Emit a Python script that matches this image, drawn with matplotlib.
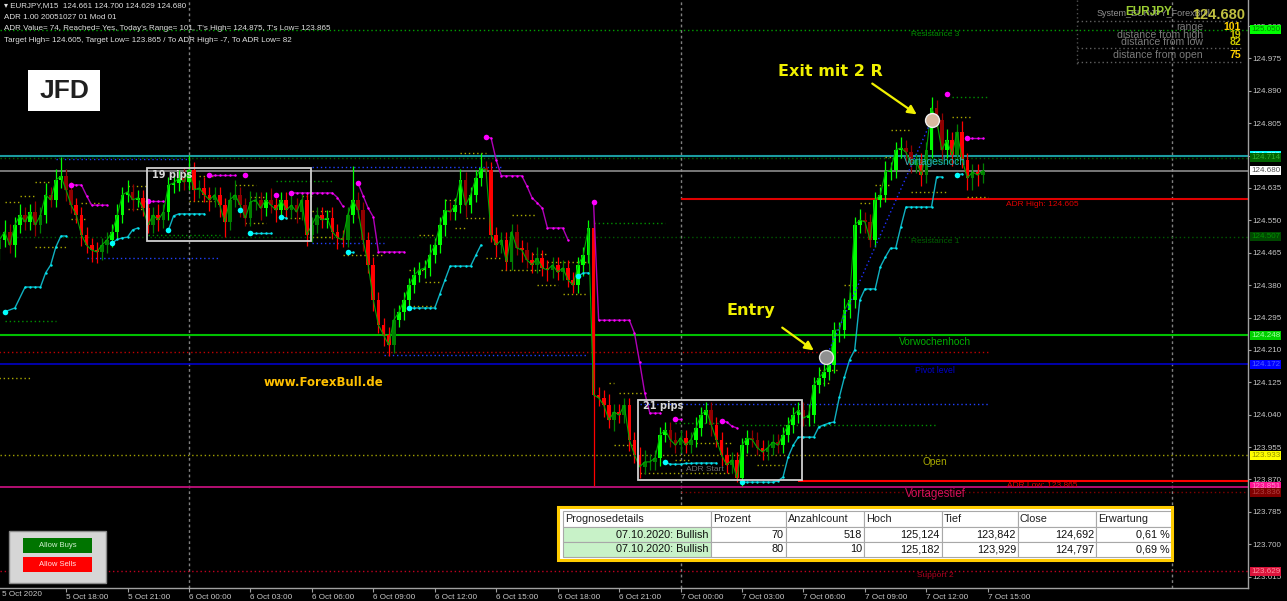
import numpy as np
import matplotlib.pyplot as plt
from matplotlib.patches import Rectangle

plt.rcParams['font.family'] = ['Liberation Sans', 'DejaVu Sans']

# EURJPY M15 closes, bar 0 = 6 Oct 00:00, last bar = 7 Oct 14:45
closes = [
    124.499, 124.520, 124.485, 124.538, 124.564, 124.546, 124.572, 124.538, 124.564, 124.617,
    124.604, 124.656, 124.666, 124.630, 124.590, 124.564, 124.512, 124.485, 124.472, 124.467,
    124.485, 124.499, 124.520, 124.564, 124.617, 124.625, 124.604, 124.609, 124.582, 124.538,
    124.564, 124.551, 124.572, 124.643, 124.648, 124.661, 124.651, 124.682, 124.630, 124.635,
    124.617, 124.604, 124.617, 124.590, 124.546, 124.604, 124.617, 124.590, 124.556, 124.598,
    124.604, 124.582, 124.604, 124.590, 124.577, 124.604, 124.577, 124.590, 124.572, 124.604,
    124.512, 124.538, 124.564, 124.551, 124.556, 124.520, 124.504, 124.499, 124.564, 124.604,
    124.577, 124.499, 124.433, 124.341, 124.275, 124.249, 124.223, 124.289, 124.309, 124.341,
    124.380, 124.407, 124.420, 124.425, 124.459, 124.485, 124.538, 124.577, 124.572, 124.590,
    124.656, 124.590, 124.617, 124.661, 124.687, 124.682, 124.512, 124.485, 124.499, 124.441,
    124.520, 124.478, 124.472, 124.446, 124.433, 124.451, 124.425, 124.420, 124.433, 124.414,
    124.425, 124.394, 124.380, 124.433, 124.459, 124.530, 124.092, 124.084, 124.065, 124.026,
    124.047, 124.039, 124.065, 123.974, 123.934, 123.903, 123.916, 123.916, 123.926, 123.987,
    124.000, 123.974, 123.960, 123.979, 123.960, 123.974, 124.005, 124.039, 124.052, 124.013,
    123.974, 123.934, 123.908, 123.921, 123.874, 123.960, 123.979, 123.974, 123.953, 123.942,
    123.953, 123.968, 123.960, 123.987, 124.013, 124.039, 124.052, 124.031, 124.039, 124.118,
    124.136, 124.152, 124.170, 124.262, 124.262, 124.315, 124.341, 124.538, 124.551, 124.546,
    124.499, 124.604, 124.617, 124.677, 124.682, 124.735, 124.740, 124.729, 124.695, 124.708,
    124.669, 124.735, 124.845, 124.813, 124.735, 124.761, 124.722, 124.782, 124.708, 124.661,
    124.677, 124.669, 124.680,
]
# wicks in pips above / below the candle body
wick_up = [
    2, 3, 2, 2, 3, 2, 2, 3, 2, 3,
    2, 3, 5, 2, 2, 2, 2, 2, 2, 2,
    2, 2, 2, 3, 2, 3, 2, 2, 2, 2,
    2, 3, 2, 2, 3, 2, 3, 4, 2, 2,
    3, 2, 2, 2, 2, 2, 4, 2, 2, 3,
    2, 2, 2, 3, 2, 2, 2, 3, 2, 2,
    2, 2, 2, 2, 2, 3, 2, 2, 2, 9,
    2, 2, 2, 2, 2, 2, 2, 3, 2, 2,
    2, 2, 2, 2, 3, 2, 2, 3, 2, 2,
    3, 2, 2, 2, 4, 2, 2, 2, 2, 2,
    2, 2, 2, 2, 2, 3, 2, 2, 2, 2,
    2, 2, 2, 2, 2, 2, 2, 2, 2, 3,
    2, 2, 2, 2, 2, 2, 3, 2, 2, 2,
    2, 2, 2, 2, 2, 2, 3, 2, 2, 2,
    2, 2, 2, 2, 2, 2, 2, 2, 2, 2,
    2, 2, 2, 2, 2, 2, 2, 2, 3, 2,
    3, 2, 2, 2, 2, 3, 2, 2, 3, 2,
    2, 2, 2, 3, 2, 2, 3, 2, 2, 2,
    2, 2, 3, 2, 2, 3, 2, 2, 3, 2,
    2, 2, 2,
]
wick_dn = [
    3, 2, 2, 3, 2, 2, 2, 3, 2, 2,
    2, 2, 2, 3, 2, 2, 3, 2, 3, 3,
    2, 2, 2, 2, 2, 2, 3, 2, 2, 2,
    2, 3, 2, 2, 2, 2, 2, 2, 3, 2,
    2, 3, 2, 3, 4, 2, 2, 3, 2, 2,
    2, 3, 2, 2, 3, 2, 2, 2, 3, 2,
    3, 2, 2, 2, 2, 2, 3, 2, 2, 2,
    2, 3, 2, 3, 2, 3, 3, 2, 2, 2,
    2, 2, 2, 2, 2, 2, 2, 3, 2, 2,
    2, 3, 2, 2, 2, 2, 2, 3, 2, 2,
    2, 2, 3, 2, 2, 2, 2, 3, 2, 2,
    2, 2, 2, 2, 3, 2, 24, 2, 3, 2,
    3, 2, 2, 3, 2, 3, 2, 2, 2, 2,
    2, 2, 2, 2, 2, 2, 2, 2, 2, 3,
    2, 3, 2, 2, 1, 2, 2, 2, 2, 2,
    2, 2, 2, 2, 2, 2, 2, 2, 2, 2,
    2, 2, 2, 2, 3, 2, 2, 2, 2, 3,
    2, 2, 2, 2, 2, 2, 2, 3, 2, 2,
    3, 2, 2, 2, 3, 2, 3, 2, 2, 3,
    3, 3, 2,
]
first_open = 124.475

time_ticks = [-24, -12, 0, 12, 24, 36, 48, 60, 72, 84, 96, 108, 120, 132, 144, 156]
time_labels = ["5 Oct 18:00", "5 Oct 21:00", "6 Oct 00:00", "6 Oct 03:00", "6 Oct 06:00",
               "6 Oct 09:00", "6 Oct 12:00", "6 Oct 15:00", "6 Oct 18:00", "6 Oct 21:00",
               "7 Oct 00:00", "7 Oct 03:00", "7 Oct 06:00", "7 Oct 09:00", "7 Oct 12:00",
               "7 Oct 15:00"]
day_starts = [0, 96, 192]
price_ticks = [125.060, 124.975, 124.890, 124.805, 124.720, 124.635, 124.550, 124.465, 124.380,
               124.295, 124.210, 124.125, 124.040, 123.955, 123.870, 123.785, 123.700, 123.615]

# levels
resistance3 = 125.050
vortageshoch = 124.720
resistance2 = 124.714
bid = 124.680
adr_high = 124.605
resistance1 = 124.507
vorwochenhoch = 124.248
red_level = 124.205
pivot = 124.172
day_open = 123.933
adr_low = 123.865
vortagestief = 123.851
dark_red_level = 123.836
support2 = 123.629

# trailing stop dots (bar, price)
cyan_stops = [
    [(-36, 124.310), (-34, 124.320), (-32, 124.375), (-31, 124.375), (-30, 124.375), (-29, 124.375),
     (-28, 124.412), (-27, 124.433), (-26, 124.480), (-25, 124.509), (-24, 124.509)],
    [(-15, 124.491), (-14, 124.500), (-13, 124.504), (-12, 124.506), (-11, 124.525), (-10, 124.530)],
    [(-4, 124.525), (-3, 124.562), (-2, 124.567), (-1, 124.567), (0, 124.567), (1, 124.567),
     (2, 124.567), (3, 124.567)],
    [(10, 124.577)],
    [(12, 124.517), (13, 124.517), (14, 124.517), (15, 124.517), (16, 124.517)],
    [(18, 124.559), (19, 124.556)],
    [(31, 124.467), (32, 124.467)],
    [(43, 124.320), (44, 124.320), (45, 124.320), (46, 124.320), (47, 124.320), (48, 124.320),
     (49, 124.357), (50, 124.394), (51, 124.430), (52, 124.430), (53, 124.430), (54, 124.430),
     (55, 124.430), (56, 124.458), (57, 124.485)],
    [(76, 124.404), (77, 124.412), (78, 124.412)],
    [(93, 123.915), (94, 123.910), (95, 123.910), (96, 123.910), (97, 123.912), (98, 123.912),
     (99, 123.913), (100, 123.913), (101, 123.913), (102, 123.913), (103, 123.913)],
    [(108, 123.863), (109, 123.863), (110, 123.863), (111, 123.863), (112, 123.863), (113, 123.863),
     (114, 123.863), (115, 123.866), (116, 123.876), (117, 123.929), (118, 123.960), (119, 123.981),
     (120, 123.981), (121, 123.981), (122, 123.981), (123, 124.008), (124, 124.013), (125, 124.018),
     (126, 124.021), (127, 124.086), (128, 124.139), (129, 124.184), (130, 124.210), (131, 124.341),
     (132, 124.370), (133, 124.370), (134, 124.370), (135, 124.428), (136, 124.454), (137, 124.477),
     (138, 124.477), (139, 124.533), (140, 124.585), (141, 124.585), (142, 124.585), (143, 124.585),
     (144, 124.585), (145, 124.585), (146, 124.664), (147, 124.664)],
    [(150, 124.669), (151, 124.672)],
]
magenta_stops = [
    [(-23, 124.643), (-22, 124.643), (-21, 124.643), (-20, 124.615), (-19, 124.590), (-18, 124.590),
     (-17, 124.590), (-16, 124.590)],
    [(-8, 124.601), (-7, 124.601), (-6, 124.601), (-5, 124.601)],
    [(4, 124.669), (5, 124.669), (6, 124.669), (7, 124.669), (8, 124.669), (9, 124.669)],
    [(11, 124.669)],
    [(17, 124.617)],
    [(20, 124.622), (21, 124.622), (22, 124.622), (23, 124.622), (24, 124.622), (25, 124.622),
     (26, 124.622), (27, 124.622), (28, 124.622), (29, 124.610), (30, 124.588)],
    [(33, 124.648), (34, 124.615), (35, 124.582), (36, 124.559), (37, 124.467), (38, 124.467),
     (39, 124.467), (40, 124.467), (41, 124.467), (42, 124.467)],
    [(58, 124.769), (59, 124.766), (60, 124.708), (61, 124.667), (62, 124.667), (63, 124.667),
     (64, 124.667), (65, 124.667), (66, 124.640), (67, 124.609), (68, 124.596), (69, 124.582),
     (70, 124.530), (71, 124.530), (72, 124.530), (73, 124.530), (74, 124.499)],
    [(79, 124.598), (80, 124.288), (81, 124.288), (82, 124.288), (83, 124.288), (84, 124.288),
     (85, 124.288), (86, 124.288), (87, 124.254), (88, 124.178), (89, 124.097), (90, 124.044),
     (91, 124.044), (92, 124.044)],
    [(95, 124.029), (96, 124.029)],
    [(104, 124.023), (105, 124.021), (106, 124.010), (107, 124.005)],
    [(148, 124.882)],
    [(152, 124.766), (153, 124.766), (154, 124.766), (155, 124.766)],
]

# short dotted indicator levels (start bar, end bar, price)
olive_levels = [
    (-37, -31, 124.136), (-36, -33, 124.598), (-33, -30, 124.614), (-30, -27, 124.651),
    (-30, -24, 124.480), (-21, -17, 124.596), (-23, -20, 124.554), (-12, -8, 124.640),
    (-12, -9, 124.580), (2, 5, 124.666), (0, 5, 124.601), (9, 13, 124.643), (12, 15, 124.611),
    (11, 15, 124.543), (19, 22, 124.556), (22, 24, 124.614), (24, 28, 124.575), (24, 28, 124.506),
    (30, 38, 124.459), (50, 52, 124.604), (52, 54, 124.530), (54, 58, 124.556), (53, 58, 124.727),
    (45, 48, 124.512), (43, 46, 124.420), (46, 49, 124.388), (43, 48, 124.325), (63, 68, 124.564),
    (58, 61, 124.451), (61, 69, 124.420), (67, 70, 124.462), (70, 78, 124.441), (68, 72, 124.380),
    (73, 78, 124.357), (82, 83, 124.123), (84, 89, 124.097), (83, 87, 123.960), (88, 106, 123.887),
    (99, 106, 123.966), (95, 98, 123.921), (111, 116, 123.908), (123, 125, 124.123),
    (123, 127, 124.157), (128, 130, 124.380), (131, 133, 124.596), (134, 137, 124.643),
    (137, 141, 124.787), (136, 137, 124.716), (141, 148, 124.625), (149, 153, 124.821),
    (152, 156, 124.611),
]
green_levels = [
    (-36, -26, 124.286), (-8, 6, 124.512), (17, 28, 124.653), (79, 93, 124.543),
    (95, 104, 124.018), (108, 146, 124.013), (149, 156, 124.874),
]
blue_levels = [
    (-26, 0, 124.711), (-20, 6, 124.451), (24, 61, 124.690), (24, 38, 124.491),
    (38, 78, 124.197), (88, 156, 124.068),
]

box_19 = (-8.2, 23.8, 124.497, 124.687)
box_21 = (87.7, 119.7, 123.869, 124.079)
entry = (124.4, 124.191)
exit_ = (145.0, 124.813)

table_header = ["Prognosedetails", "Prozent", "Anzahlcount", "Hoch", "Tief", "Close", "Erwartung"]
table_rows = [
    ["07.10.2020: Bullish", "70", "518", "125,124", "123,842", "124,692", "0,61 %"],
    ["07.10.2020: Bullish", "80", "10", "125,182", "123,929", "124,797", "0,69 %"],
]

# ------------------------------------------------------------------
W, H = 1287, 601
fig = plt.figure(figsize=(W / 100, H / 100), dpi=100, facecolor='black')
ax = fig.add_axes([0, 13 / H, 1248 / W, 588 / H])
ax.set_facecolor('black')
ax.set_xlim(-36.9, 206.8)
ax.set_ylim(123.585, 125.1285)

for s in ['top', 'left']:
    ax.spines[s].set_visible(False)
for s in ['right', 'bottom']:
    ax.spines[s].set_color('#a0a0a0')
    ax.spines[s].set_linewidth(1)

ax.yaxis.tick_right()
ax.set_yticks(price_ticks)
ax.set_yticklabels([f"{p:.3f}" for p in price_ticks])
ax.tick_params(axis='y', colors='#a0a0a0', labelcolor='#c8c8c8', labelsize=5.8,
               length=2, pad=1.5)
ax.set_xticks(time_ticks)
ax.set_xticklabels(time_labels)
ax.tick_params(axis='x', colors='#a0a0a0', labelcolor='#c8c8c8', labelsize=5.9,
               length=3, pad=1.5)
for lab in ax.get_xticklabels():
    lab.set_ha('left')

# day separators
for d in day_starts:
    ax.axvline(d, color='#808080', lw=1, ls=(0, (2, 2)), zorder=1)

# horizontal levels
dot = (0, (1, 2))
ax.axhline(resistance3, color='#00a000', lw=1, ls=dot, zorder=1)
ax.axhline(vortageshoch, color='#1a9aa0', lw=1.5, zorder=1)
ax.axhline(resistance2, color='#006800', lw=1, ls=dot, zorder=1)
ax.axhline(bid, color='#8c8c8c', lw=1.2, zorder=1)
ax.hlines(adr_high, 96, 206.8, color='#e00000', lw=1.5, zorder=1)
ax.axhline(resistance1, color='#005a00', lw=1, ls=dot, zorder=1)
ax.axhline(vorwochenhoch, color='#00c000', lw=1.5, zorder=1)
ax.hlines(red_level, -37, 156, color='#c00000', lw=1, ls=dot, zorder=1)
ax.axhline(pivot, color='#0000c8', lw=1.2, zorder=1)
ax.axhline(day_open, color='#a0a000', lw=1, ls=dot, zorder=1)
ax.hlines(adr_low, 119, 206.8, color='#ff0000', lw=1.5, zorder=1)
ax.axhline(vortagestief, color='#c0107a', lw=1.3, zorder=1)
ax.hlines(dark_red_level, 96, 206.8, color='#800000', lw=1, ls=dot, zorder=1)
ax.axhline(support2, color='#c00020', lw=1, ls=dot, zorder=1)

for b0, b1, p in olive_levels:
    ax.hlines(p, b0, b1, color='#a8a800', lw=1, ls=dot, zorder=1)
for b0, b1, p in green_levels:
    ax.hlines(p, b0, b1, color='#009000', lw=1, ls=dot, zorder=1)
for b0, b1, p in blue_levels:
    ax.hlines(p, b0, b1, color='#2040ff', lw=1, ls=dot, zorder=1)

# candles
c = np.array(closes)
o = np.r_[first_open, c[:-1]]
hi = np.maximum(o, c) + np.array(wick_up) / 100
lo = np.minimum(o, c) - np.array(wick_dn) / 100
bars = np.arange(156 - len(c), 156)
mom = c - np.r_[np.full(4, c[0]), c[:-4]]
cols = []
for oo, cc, m in zip(o, c, mom):
    if cc >= oo:
        cols.append('#00ff00' if m > 0.015 else '#008000')
    else:
        cols.append('#ff0000' if m < -0.015 else '#900000')
ax.vlines(bars, lo, hi, colors=cols, lw=0.9, zorder=3)
ax.bar(bars, np.maximum(np.abs(c - o), 0.0008), bottom=np.minimum(o, c), width=0.72,
       color=cols, linewidth=0, zorder=3)
ax.plot(bars, c, color='#00a800', lw=0.8, zorder=4)

# trailing stops
for seg in cyan_stops:
    xs, ys = zip(*seg)
    ax.plot(xs, ys, color='#10b0c0', lw=1, zorder=5)
    ax.scatter(xs[1:], ys[1:], s=3, color='#00e8f0', zorder=5, linewidths=0)
    ax.scatter(xs[0], ys[0], s=16, color='#00ffff', zorder=5, linewidths=0)
for seg in magenta_stops:
    xs, ys = zip(*seg)
    ax.plot(xs, ys, color='#b000b8', lw=1, zorder=5)
    ax.scatter(xs[1:], ys[1:], s=3, color='#ff00ff', zorder=5, linewidths=0)
    ax.scatter(xs[0], ys[0], s=16, color='#ff00ff', zorder=5, linewidths=0)

# range boxes
for (b0, b1, p0, p1), txt in [(box_19, "19 pips"), (box_21, "21 pips")]:
    ax.add_patch(Rectangle((b0, p0), b1 - b0, p1 - p0, fill=False, ec='#d0d0d0', lw=1.3, zorder=6))
    ax.text(b0 + 1, p1 - 0.004, txt, color='#d8d8d8', fontsize=7, fontweight='bold',
            family=['DejaVu Sans'], va='top', ha='left', zorder=6)
ax.text(97, 123.897, "ADR Start", color='#707070', fontsize=6, ha='left', va='center', zorder=6)

# trade
ax.plot([entry[0], exit_[0]], [entry[1], exit_[1]], color='#2030ff', lw=1, ls=dot, zorder=5)
ax.plot(*entry, marker='o', ms=10, mfc='#909090', mec='#e0e0e0', mew=1, zorder=7)
ax.plot(*exit_, marker='o', ms=10, mfc='#d8b8a0', mec='#f0f0f0', mew=1, zorder=7)

# level labels
lx = 145.7
labels = [
    (resistance3, "Resistance 3", '#009000', 6),
    (resistance2, "Resistance 2", '#006000', 6),
    (vortageshoch, "Vortageshoch", '#20b8c0', 7.3),
    (resistance1, "Resistance 1", '#006000', 6),
    (vorwochenhoch, "Vorwochenhoch", '#00b000', 7.3),
    (pivot, "Pivot level", '#0000d0', 6.2),
    (day_open, "Open", '#a8a800', 7.3),
    (vortagestief, "Vortagestief", '#d0105a', 8.3),
    (support2, "Support 2", '#b00020', 6),
]
for p, txt, col, fs in labels:
    ax.text(lx, p - 0.003, txt, color=col, fontsize=fs, ha='center', va='top', zorder=6)
ax.text(166.6, adr_high - 0.003, "ADR High: 124.605", color='#e00000', fontsize=6,
        ha='center', va='top', zorder=6)
ax.text(166.6, adr_low - 0.003, "ADR Low: 123.865", color='#e00000', fontsize=6,
        ha='center', va='top', zorder=6)

# right price tags
ytr = ax.get_yaxis_transform()
tags = [
    (resistance3, '#00ff00', '#008000'),
    (vortageshoch, '#00ffff', '#b0ffff'),
    (resistance2, '#006400', '#30b030'),
    (bid, '#ffffff', '#505050'),
    (resistance1, '#004800', '#009000'),
    (vorwochenhoch, '#00d000', '#a0ffa0'),
    (pivot, '#0000ff', '#5060ff'),
    (day_open, '#ffff00', '#909000'),
    (vortagestief, '#ff1493', '#ff90c8'),
    (dark_red_level, '#800000', '#b04040'),
    (support2, '#dc143c', '#ff90a0'),
]
for p, bg, fg in tags:
    ax.text(1.0025, p, f"{p:.3f}", transform=ytr, color=fg, fontsize=5.8, ha='left',
            va='center', clip_on=False, zorder=8,
            bbox=dict(boxstyle='square,pad=0.12', fc=bg, ec='none'))

# ------------------------------------------------------------------
# overlay in pixel coordinates
ov = fig.add_axes([0, 0, 1, 1], zorder=10)
ov.set_xlim(0, W)
ov.set_ylim(H, 0)
ov.axis('off')
ov.patch.set_alpha(0)

info = ["\u25be EURJPY,M15  124.661 124.700 124.629 124.680",
        "ADR 1.00 20051027 01 Mod 01",
        "ADR Value= 74, Reached= Yes, Today's Range= 101, T's High= 124.875, T's Low= 123.865",
        "Target High= 124.605, Target Low= 123.865 / To ADR High= -7, To ADR Low= 82"]
for k, line in enumerate(info):
    ov.text(4, 6 + k * 11.5, line, color='#e0e0e0', fontsize=5.8, va='center', ha='left')

ov.text(2, 595, "5 Oct 2020", color='#c8c8c8', fontsize=5.9, va='center', ha='left')

# logo
ov.add_patch(Rectangle((28, 70), 72, 41, fc='white', ec='none'))
ov.text(64, 91, "JFD", color='#202020', fontsize=19, fontweight='bold', ha='center', va='center')

# annotations
ov.text(830, 72, "Exit mit 2 R", color='#f0f000', fontsize=11.5, fontweight='bold',
        family=['DejaVu Sans'], ha='center', va='center')
ov.annotate('', xy=(919, 116), xytext=(870, 82),
            arrowprops=dict(arrowstyle='-|>', color='#f0f000', lw=1.6, mutation_scale=13))
ov.text(751, 311, "Entry", color='#f0f000', fontsize=11.5, fontweight='bold',
        family=['DejaVu Sans'], ha='center', va='center')
ov.annotate('', xy=(816, 352), xytext=(780, 326),
            arrowprops=dict(arrowstyle='-|>', color='#f0f000', lw=1.6, mutation_scale=13))
ov.text(323, 383, "www.ForexBull.de", color='#ffc000', fontsize=8.5, fontweight='bold',
        family=['DejaVu Sans'], ha='center', va='center')

# dashboard top right
ov.plot([1077, 1077], [0, 66], color='#505050', lw=1, ls=(0, (1, 2)))
for yy in [21, 48, 62]:
    ov.plot([1077, 1243], [yy, yy], color='#606060', lw=1, ls=(0, (1, 2)))
ov.text(1097, 14, "System_EURJPY_ForexBull", color='#909090', fontsize=6.5, ha='left', va='center')
ov.text(1125, 12, "EURJPY", color='#9acd32', fontsize=8.5, fontweight='bold', ha='left', va='center')
ov.text(1245, 15, "124.680", color='#c0c040', fontsize=10.5, fontweight='bold', ha='right', va='center')
dash = [("range", "101", 27, '#ffd000'), ("distance from high", "19", 35, '#c8c800'),
        ("distance from low", "82", 42, '#c8c800'), ("distance from open", "75", 55, '#ffd000')]
for lab, val, yy, col in dash:
    ov.text(1203, yy, lab, color='#7a7a7a', fontsize=7.6, ha='right', va='center')
    ov.text(1241, yy, val, color=col, fontsize=7.6, fontweight='bold', ha='right', va='center')

# allow buys / sells panel
ov.add_patch(Rectangle((9, 531), 97, 52, fc='#d6d6d6', ec='#8a8a8a', lw=1))
ov.add_patch(Rectangle((23, 538), 69, 15, fc='#007400', ec='none'))
ov.text(57.5, 545.5, "Allow Buys", color='#d0f0d0', fontsize=5.5, ha='center', va='center')
ov.add_patch(Rectangle((23, 557), 69, 15, fc='#ff0000', ec='none'))
ov.text(57.5, 564.5, "Allow Sells", color='#ffe0e0', fontsize=5.5, ha='center', va='center')

# forecast table
col_x = [563, 711, 786, 864, 942, 1018, 1096, 1172]
row_y = [511, 527, 542, 557]
ov.add_patch(Rectangle((560, 509), 611, 50, fc='white', ec='none'))
for r in range(3):
    for k in range(7):
        fc = '#c8f2c8' if (r > 0 and k == 0) else 'white'
        ov.add_patch(Rectangle((col_x[k], row_y[r]), col_x[k + 1] - col_x[k],
                               row_y[r + 1] - row_y[r], fc=fc, ec='#a8a8a8', lw=0.8))
for k, h in enumerate(table_header):
    ov.text(col_x[k] + 2, (row_y[0] + row_y[1]) / 2, h, color='#202020', fontsize=7.8,
            ha='left', va='center')
for r, row in enumerate(table_rows):
    for k, v in enumerate(row):
        ov.text(col_x[k + 1] - 2, (row_y[r + 1] + row_y[r + 2]) / 2, v, color='#101010',
                fontsize=7.8, ha='right', va='center')
ov.add_patch(Rectangle((558, 507), 614, 53, fill=False, ec='#ffcc00', lw=2.2))

fig.savefig('out.png', dpi=100, facecolor='black')
